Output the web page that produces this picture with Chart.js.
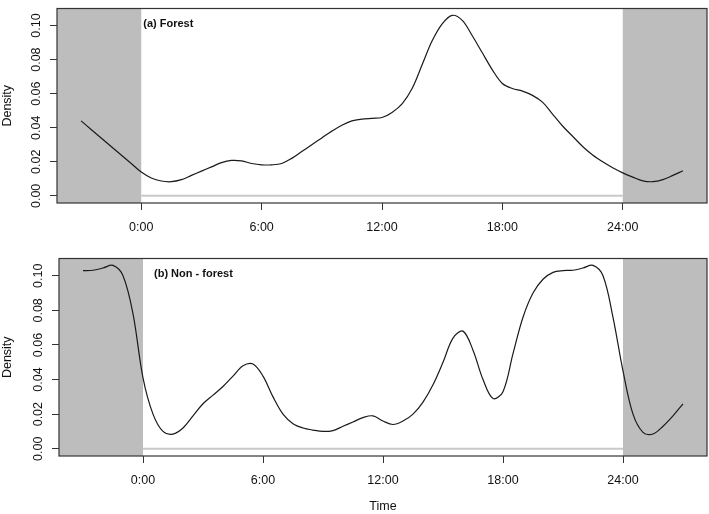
<!DOCTYPE html>
<html lang="en">
<head>
<meta charset="UTF-8">
<title>Activity density: forest vs non-forest</title>
<script src="https://cdn.jsdelivr.net/npm/chart.js"></script>
<style>
  body { margin: 0; background: #fff; }
  #wrap { position: relative; width: 709px; height: 514px; }
  canvas { position: absolute; left: 0; }
  #topChart { top: 0; }
  #bottomChart { top: 250px; }
</style>
</head>
<body>
<div id="wrap">
  <canvas id="topChart" width="709" height="250"></canvas>
  <canvas id="bottomChart" width="709" height="264"></canvas>
</div>
<script>
// time of day (hours), half-hour steps, wrapped 3 h either side of the day
const hours = [-3, -2.5, -2, -1.5, -1, -0.5, 0, 0.5, 1, 1.5, 2, 2.5, 3, 3.5, 4, 4.5, 5, 5.5,
  6, 6.5, 7, 7.5, 8, 8.5, 9, 9.5, 10, 10.5, 11, 11.5, 12, 12.5, 13, 13.5, 14, 14.5, 15, 15.5,
  16, 16.5, 17, 17.5, 18, 18.5, 19, 19.5, 20, 20.5, 21, 21.5, 22, 22.5, 23, 23.5, 24, 24.5,
  25, 25.5, 26, 26.5, 27];

const forestDensity = [0.044, 0.039, 0.034, 0.029, 0.024, 0.019, 0.014, 0.0105, 0.0087, 0.0083,
  0.0095, 0.012, 0.0145, 0.017, 0.0195, 0.0208, 0.0205, 0.019, 0.0182, 0.0182, 0.019, 0.022,
  0.026, 0.030, 0.034, 0.038, 0.0415, 0.044, 0.045, 0.0455, 0.046, 0.049, 0.054, 0.063, 0.077,
  0.091, 0.101, 0.106, 0.103, 0.094, 0.084, 0.074, 0.066, 0.063, 0.0615, 0.059, 0.055, 0.048,
  0.041, 0.035, 0.029, 0.024, 0.020, 0.0165, 0.0135, 0.011, 0.0088, 0.0083, 0.0095, 0.012, 0.0147];

const nonForestDensity = [0.103, 0.1032, 0.1045, 0.106, 0.100, 0.078, 0.041, 0.020, 0.010, 0.0085,
  0.012, 0.019, 0.026, 0.031, 0.036, 0.042, 0.048, 0.049, 0.042, 0.030, 0.020, 0.0145, 0.012,
  0.0108, 0.0100, 0.0105, 0.013, 0.0155, 0.018, 0.019, 0.016, 0.014, 0.016, 0.020, 0.027, 0.037,
  0.050, 0.064, 0.068, 0.057, 0.040, 0.029, 0.033, 0.055, 0.076, 0.090, 0.098, 0.102, 0.103,
  0.1032, 0.1045, 0.106, 0.100, 0.076, 0.045, 0.020, 0.0095, 0.0085, 0.013, 0.019, 0.026];

const timeTicks = [0, 6, 12, 18, 24];
const timeTickLabels = ['0:00', '6:00', '12:00', '18:00', '24:00'];
const densityTicks = [0, 0.02, 0.04, 0.06, 0.08, 0.10];
const densityTickLabels = ['0.00', '0.02', '0.04', '0.06', '0.08', '0.10'];

const nightEnd = 0;    // shaded before this
const nightStart = 24; // shaded after this

const FONT = "'Liberation Sans', Arial, sans-serif";

// grey night bands, frame and the panel caption
const panelPlugin = {
  id: 'panel',
  beforeDatasetsDraw(chart) {
    const {ctx, chartArea: a, scales: {x}} = chart;
    const x0 = x.getPixelForValue(nightEnd);
    const x1 = x.getPixelForValue(nightStart);
    ctx.save();
    ctx.fillStyle = '#bdbdbd';
    ctx.fillRect(a.left, a.top, x0 - a.left, a.bottom - a.top);
    ctx.fillRect(x1, a.top, a.right - x1, a.bottom - a.top);
    ctx.restore();
  },
  afterDraw(chart, args, opts) {
    const {ctx, chartArea: a, scales: {x}} = chart;
    ctx.save();
    ctx.strokeStyle = '#333';
    ctx.lineWidth = 1.2;
    ctx.strokeRect(a.left, a.top, a.right - a.left, a.bottom - a.top);
    ctx.fillStyle = '#111';
    ctx.font = "bold 11px " + FONT;
    ctx.textBaseline = 'middle';
    ctx.fillText(opts.label, x.getPixelForValue(0) + opts.dx, a.top + opts.dy);
    ctx.restore();
  }
};

function makeChart(id, values, opt) {
  const ctx = document.getElementById(id).getContext('2d');
  return new Chart(ctx, {
    type: 'line',
    data: {
      datasets: [{
        data: hours.map((h, i) => ({x: h, y: values[i]})),
        borderColor: '#1a1a1a',
        borderWidth: 1.2,
        pointRadius: 0,
        tension: 0.35,
        fill: false
      }, {
        // zero reference line across the day
        data: [{x: nightEnd, y: 0}, {x: nightStart, y: 0}],
        borderColor: '#c8c8c8',
        borderWidth: 2,
        pointRadius: 0,
        fill: false
      }]
    },
    options: {
      responsive: false,
      animation: false,
      events: [],
      layout: { padding: { top: opt.top, right: 2, left: 0, bottom: 0 } },
      plugins: {
        legend: { display: false },
        tooltip: { enabled: false },
        panel: { label: opt.label, dx: opt.labelDx, dy: 15 }
      },
      scales: {
        x: {
          type: 'linear',
          min: -4.2,
          max: 28.2,
          afterFit: (s) => { s.height = opt.xHeight; },
          afterBuildTicks: (s) => { s.ticks = timeTicks.map(v => ({value: v})); },
          ticks: {
            callback: (v) => timeTickLabels[timeTicks.indexOf(v)],
            color: '#111',
            font: { family: FONT, size: 12.5 },
            padding: 10,
            maxRotation: 0
          },
          grid: { drawOnChartArea: false, tickLength: 7, color: '#333', lineWidth: 1 },
          border: { display: false },
          title: {
            display: !!opt.xTitle,
            text: opt.xTitle || '',
            color: '#111',
            font: { family: FONT, size: 12.5 },
            padding: { top: 0, bottom: 0 }
          }
        },
        y: {
          min: -0.0042,
          max: 0.110,
          afterFit: (s) => { s.width = opt.yWidth; },
          afterBuildTicks: (s) => { s.ticks = densityTicks.map(v => ({value: v})); },
          ticks: {
            callback: (v) => densityTickLabels[densityTicks.indexOf(v)],
            color: '#111',
            font: { family: FONT, size: 12.5 },
            minRotation: 90,
            maxRotation: 90,
            crossAlign: 'center',
            padding: 1
          },
          grid: { drawOnChartArea: false, tickLength: 7, color: '#333', lineWidth: 1 },
          border: { display: false },
          title: {
            display: true,
            text: 'Density',
            color: '#111',
            font: { family: FONT, size: 12.5 },
            padding: { top: 0, bottom: 0 }
          }
        }
      }
    },
    plugins: [panelPlugin]
  });
}

makeChart('topChart', forestDensity, {
  top: 1, xHeight: 47, yWidth: 57, label: '(a) Forest', labelDx: 2
});
makeChart('bottomChart', nonForestDensity, {
  top: 4, xHeight: 58, yWidth: 59, label: '(b) Non - forest', labelDx: 11, xTitle: 'Time'
});
</script>
</body>
</html>
